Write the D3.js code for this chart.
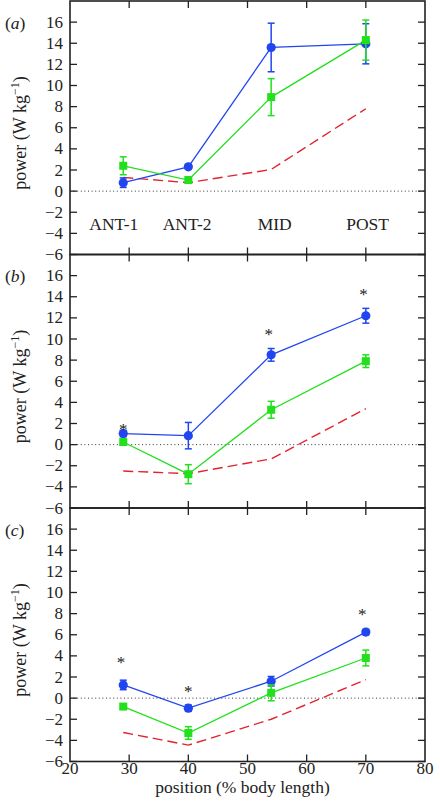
<!DOCTYPE html>
<html>
<head>
<meta charset="utf-8">
<script src="https://cdn.jsdelivr.net/npm/d3@7/dist/d3.min.js"></script>
<style>
html,body{margin:0;padding:0;background:#fff;}
svg text{font-family:"Liberation Serif","Times New Roman",serif;fill:#222;}
</style>
</head>
<body>
<svg id="chart" width="440" height="810"></svg>
<script>
// ---- data ----
const positions = [29, 40, 54, 70];
const categories = ["ANT-1", "ANT-2", "MID", "POST"];
const categoryLabelX = [27.4, 39.8, 54.6, 70.3];
const panelLabels = ["a", "b", "c"];

const blueA = [0.8, 2.3, 13.6, 13.95];
const blueErrA = [0.45, 0.2, 2.3, 1.9];
const greenA = [2.4, 1.05, 8.9, 14.3];
const greenErrA = [0.85, 0.2, 1.75, 1.9];
const redA = [1.3, 0.8, 2.05, 7.8];

const blueB = [1.05, 0.85, 8.5, 12.2];
const blueErrB = [0.3, 1.25, 0.6, 0.7];
const greenB = [0.25, -2.8, 3.3, 7.9];
const greenErrB = [0.3, 0.9, 0.8, 0.6];
const redB = [-2.5, -2.75, -1.35, 3.4];
const asteriskB = [[29, 1.7], [53.6, 10.7], [69.6, 14.5]];

const blueC = [1.25, -0.95, 1.6, 6.25];
const blueErrC = [0.45, 0.3, 0.45, 0.25];
const greenC = [-0.8, -3.3, 0.5, 3.8];
const greenErrC = [0.25, 0.6, 0.75, 0.75];
const redC = [-3.25, -4.45, -2.0, 1.75];
const asteriskC = [[28.6, 3.7], [40, 0.9], [69.4, 8.2]];

const xTicks = [20, 30, 40, 50, 60, 70, 80];
const yTicks = [-6, -4, -2, 0, 2, 4, 6, 8, 10, 12, 14, 16];

const panels = [
  {label: panelLabels[0], blue: blueA, blueErr: blueErrA, green: greenA, greenErr: greenErrA, red: redA, stars: [], cats: true},
  {label: panelLabels[1], blue: blueB, blueErr: blueErrB, green: greenB, greenErr: greenErrB, red: redB, stars: asteriskB, cats: false},
  {label: panelLabels[2], blue: blueC, blueErr: blueErrC, green: greenC, greenErr: greenErrC, red: redC, stars: asteriskC, cats: false}
];

// ---- layout ----
const svg = d3.select("#chart");
const left = 70, right = 425, top0 = 1, panelH = 253.5;
const BLUE = "#2146f0", GREEN = "#22e01c", RED = "#e2222e", FRAME = "#222";
const x = d3.scaleLinear().domain([20, 80]).range([left, right]);
const tickLen = 7;

panels.forEach((p, i) => {
  const pt = top0 + i * panelH;
  const y = d3.scaleLinear().domain([-6, 18]).range([pt + panelH, pt]);
  const g = svg.append("g");

  // zero dotted line
  g.append("line").attr("x1", left).attr("x2", right)
    .attr("y1", y(0)).attr("y2", y(0))
    .attr("stroke", "#333").attr("stroke-width", 1).attr("stroke-dasharray", "1,2.6");

  // y ticks left & right (inward)
  g.selectAll(".yl").data(yTicks).enter().append("line")
    .attr("x1", left).attr("x2", left + tickLen)
    .attr("y1", d => y(d)).attr("y2", d => y(d))
    .attr("stroke", FRAME).attr("stroke-width", 1.3);
  g.selectAll(".yr").data(yTicks).enter().append("line")
    .attr("x1", right).attr("x2", right - tickLen)
    .attr("y1", d => y(d)).attr("y2", d => y(d))
    .attr("stroke", FRAME).attr("stroke-width", 1.3);
  // x ticks top & bottom (inward)
  g.selectAll(".xt").data(xTicks.slice(1, -1)).enter().append("line")
    .attr("x1", d => x(d)).attr("x2", d => x(d))
    .attr("y1", pt).attr("y2", pt + tickLen)
    .attr("stroke", FRAME).attr("stroke-width", 1.3);
  g.selectAll(".xb").data(xTicks.slice(1, -1)).enter().append("line")
    .attr("x1", d => x(d)).attr("x2", d => x(d))
    .attr("y1", pt + panelH).attr("y2", pt + panelH - tickLen)
    .attr("stroke", FRAME).attr("stroke-width", 1.3);

  // y tick labels
  g.selectAll(".ytl").data(yTicks).enter().append("text")
    .attr("x", 63).attr("y", d => y(d)).attr("dy", "0.33em")
    .attr("text-anchor", "end").attr("font-size", 17)
    .text(d => d < 0 ? "\u2212" + Math.abs(d) : d);

  // y axis label
  const yl = g.append("text")
    .attr("transform", `translate(26,${pt + 132}) rotate(-90)`)
    .attr("text-anchor", "middle").attr("font-size", 18);
  yl.append("tspan").text("power (W kg");
  yl.append("tspan").attr("font-size", 12).attr("dy", -7).text("\u22121");
  yl.append("tspan").attr("dy", 7).text(")");

  // panel label
  const pl = g.append("text").attr("x", 5).attr("y", pt + 27.5).attr("font-size", 17.5);
  pl.append("tspan").text("(");
  pl.append("tspan").attr("font-style", "italic").text(p.label);
  pl.append("tspan").text(")");

  // red dashed
  const line = d3.line().x((d, j) => x(positions[j])).y(d => y(d));
  g.append("path").datum(p.red).attr("d", line)
    .attr("fill", "none").attr("stroke", RED).attr("stroke-width", 1.4)
    .attr("stroke-dasharray", "10,5");

  // series
  const series = [
    {vals: p.blue, err: p.blueErr, color: BLUE, shape: "circle"},
    {vals: p.green, err: p.greenErr, color: GREEN, shape: "square"}
  ];
  series.forEach(s => {
    g.append("path").datum(s.vals).attr("d", line)
      .attr("fill", "none").attr("stroke", s.color).attr("stroke-width", 1.3);
  });
  series.forEach(s => {
    s.vals.forEach((v, j) => {
      const cx = x(positions[j]);
      const e = s.err[j];
      g.append("line").attr("x1", cx).attr("x2", cx).attr("y1", y(v - e)).attr("y2", y(v + e))
        .attr("stroke", s.color).attr("stroke-width", 1.5);
      [v - e, v + e].forEach(w => {
        g.append("line").attr("x1", cx - 3.5).attr("x2", cx + 3.5).attr("y1", y(w)).attr("y2", y(w))
          .attr("stroke", s.color).attr("stroke-width", 1.5);
      });
      if (s.shape === "circle") {
        g.append("circle").attr("cx", cx).attr("cy", y(v)).attr("r", 4.6).attr("fill", s.color);
      } else {
        g.append("rect").attr("x", cx - 4).attr("y", y(v) - 4).attr("width", 8).attr("height", 8).attr("fill", s.color);
      }
    });
  });

  // asterisks
  g.selectAll(".star").data(p.stars).enter().append("text")
    .attr("x", d => x(d[0])).attr("y", d => y(d[1]) + 8.5)
    .attr("text-anchor", "middle").attr("font-size", 17).text("*");

  // category labels
  if (p.cats) {
    g.selectAll(".cat").data(categories).enter().append("text")
      .attr("x", (d, j) => x(categoryLabelX[j])).attr("y", pt + 229)
      .attr("text-anchor", "middle").attr("font-size", 17.5).text(d => d);
  }

  // frame
  g.append("rect").attr("x", left).attr("y", pt).attr("width", right - left).attr("height", panelH)
    .attr("fill", "none").attr("stroke", FRAME).attr("stroke-width", 1.6);
});

// x tick labels (bottom)
const bottom = top0 + 3 * panelH;
svg.selectAll(".xtl").data(xTicks).enter().append("text")
  .attr("x", d => x(d)).attr("y", bottom + 12)
  .attr("text-anchor", "middle").attr("font-size", 17).text(d => d);
svg.append("text").attr("x", (left + right) / 2 - 5).attr("y", bottom + 31)
  .attr("text-anchor", "middle").attr("font-size", 17.5).text("position (% body length)");
</script>
</body>
</html>
